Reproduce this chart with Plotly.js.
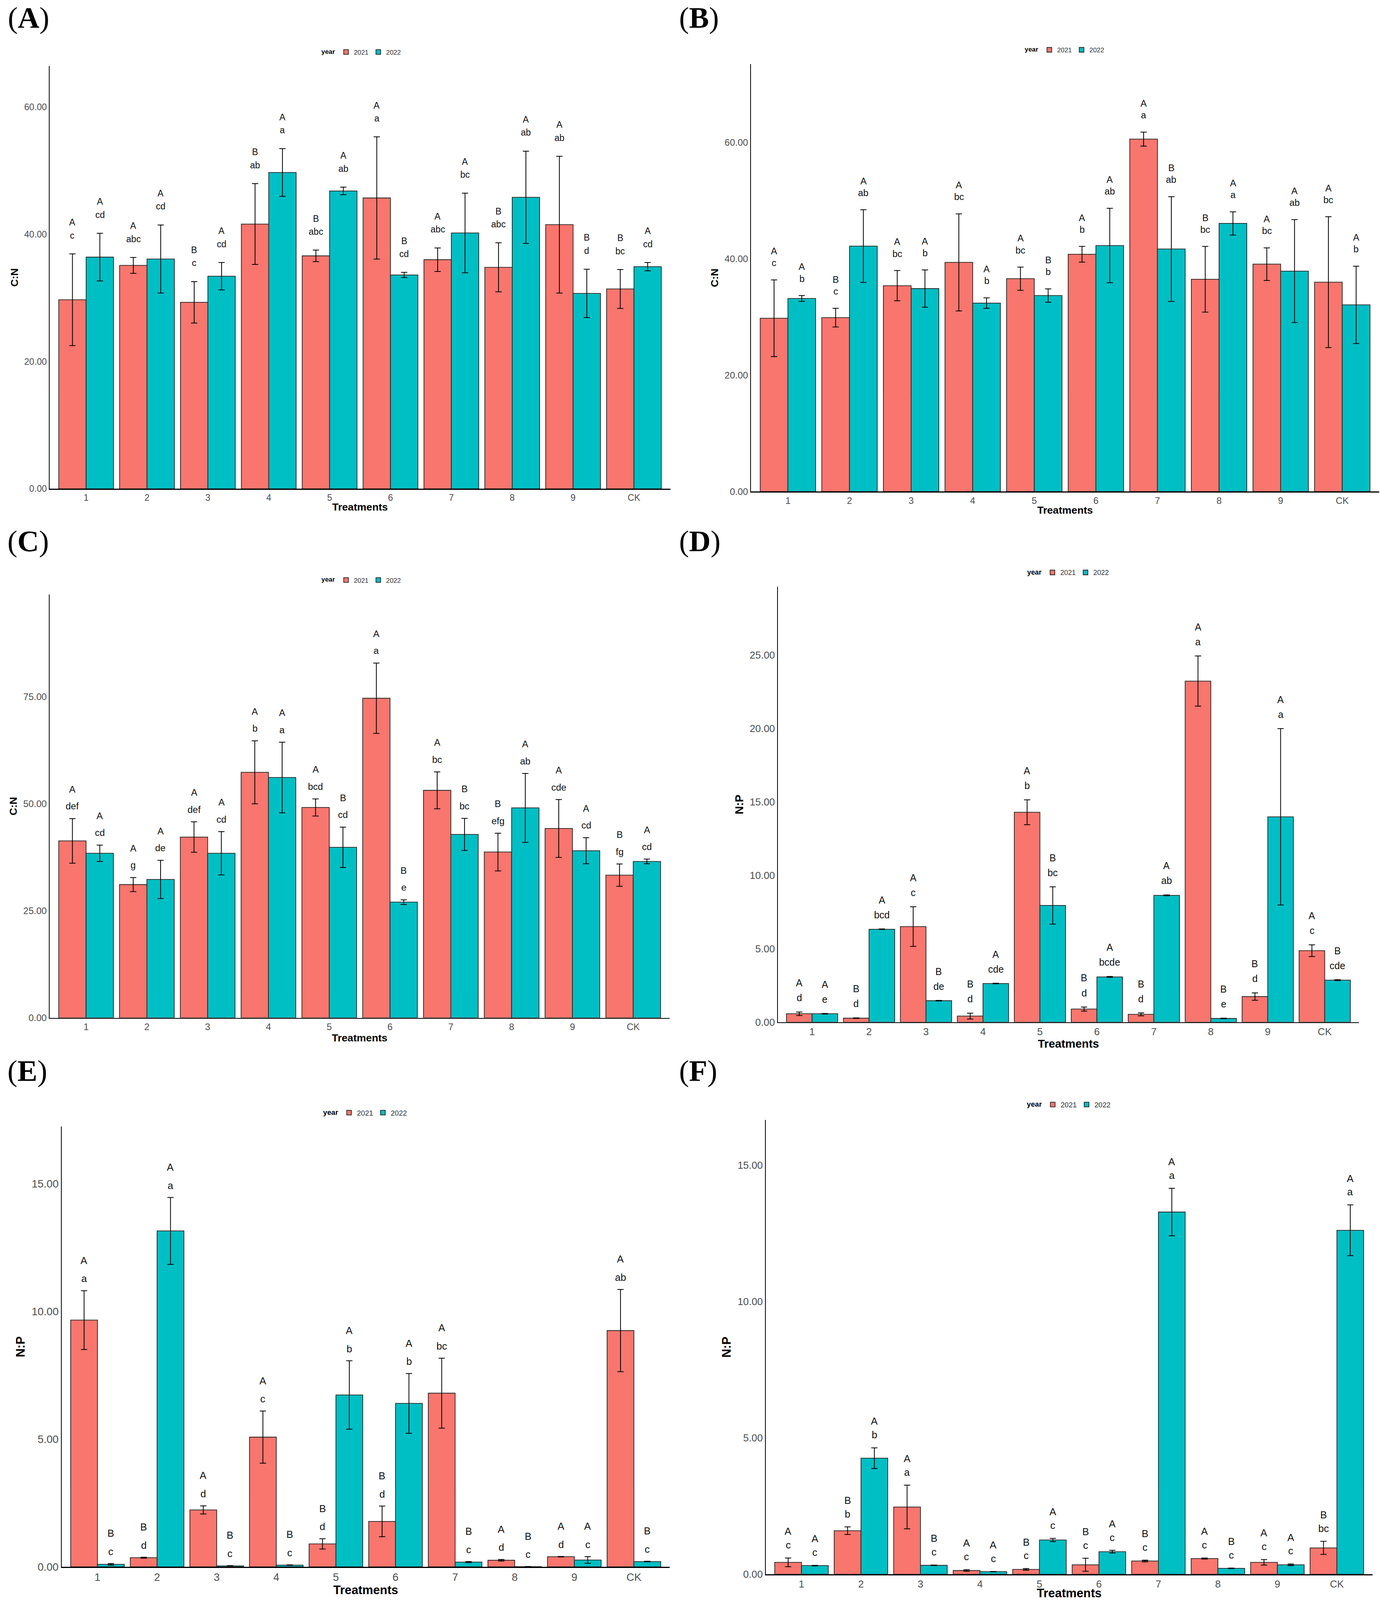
<!DOCTYPE html>
<html><head><meta charset="utf-8">
<script src="https://cdn.plot.ly/plotly-3.0.1.min.js"></script>
<style>html,body{margin:0;padding:0;background:#fff;overflow:hidden}</style>
</head><body>
<div id="chart"></div>
<script>
// ---------- DATA ----------
const treatments = ['1','2','3','4','5','6','7','8','9','CK'];
const years = ['2021','2022'];

// Panel A (C:N)
const A_2021 = [29.7, 35.1, 29.3, 41.6, 36.6, 45.7, 36.0, 34.8, 41.5, 31.4];
const A_2021_err = [7.2, 1.25, 3.25, 6.35, 0.9, 9.6, 1.85, 3.85, 10.75, 3.05];
const A_2022 = [36.4, 36.1, 33.4, 49.7, 46.8, 33.6, 40.2, 45.8, 30.7, 34.9];
const A_2022_err = [3.75, 5.35, 2.15, 3.75, 0.6, 0.4, 6.25, 7.25, 3.8, 0.65];
const A_2021_cap = ['A','A','B','B','B','A','A','B','A','B'];
const A_2021_low = ['c','abc','c','ab','abc','a','abc','abc','ab','bc'];
const A_2022_cap = ['A','A','A','A','A','B','A','A','B','A'];
const A_2022_low = ['cd','cd','cd','a','ab','cd','bc','ab','d','cd'];

// Panel B (C:N)
const B_2021 = [29.8, 29.9, 35.4, 39.4, 36.6, 40.8, 60.6, 36.5, 39.1, 36.0];
const B_2021_err = [6.6, 1.6, 2.6, 8.35, 2.0, 1.35, 1.2, 5.65, 2.8, 11.25];
const B_2022 = [33.2, 42.2, 34.9, 32.4, 33.7, 42.3, 41.7, 46.1, 37.9, 32.1];
const B_2022_err = [0.5, 6.25, 3.2, 0.9, 1.15, 6.4, 9.0, 2.0, 8.85, 6.65];
const B_2021_cap = ['A','B','A','A','A','A','A','B','A','A'];
const B_2021_low = ['c','c','bc','bc','bc','b','a','bc','bc','bc'];
const B_2022_cap = ['A','A','A','A','B','A','B','A','A','A'];
const B_2022_low = ['b','ab','b','b','b','ab','ab','a','ab','b'];

// Panel C (C:N)
const C_2021 = [41.3, 31.1, 42.2, 57.3, 49.1, 74.6, 53.1, 38.7, 44.2, 33.3];
const C_2021_err = [5.2, 1.65, 3.55, 7.35, 2.0, 8.2, 4.3, 4.4, 6.75, 2.6];
const C_2022 = [38.4, 32.3, 38.4, 56.1, 39.8, 27.0, 42.8, 49.0, 39.0, 36.5];
const C_2022_err = [1.9, 4.45, 5.05, 8.25, 4.7, 0.55, 3.75, 8.05, 3.05, 0.55];
const C_2021_cap = ['A','A','A','A','A','A','A','B','A','B'];
const C_2021_low = ['def','g','def','b','bcd','a','bc','efg','cde','fg'];
const C_2022_cap = ['A','A','A','A','B','B','B','A','A','A'];
const C_2022_low = ['cd','de','cd','a','cd','e','bc','ab','cd','cd'];

// Panel D (N:P)
const D_2021 = [0.57, 0.27, 6.51, 0.41, 14.3, 0.89, 0.53, 23.24, 1.74, 4.87];
const D_2021_err = [0.12, 0.02, 1.35, 0.2, 0.85, 0.14, 0.1, 1.71, 0.25, 0.4];
const D_2022 = [0.57, 6.33, 1.46, 2.63, 7.95, 3.08, 8.64, 0.25, 13.99, 2.86];
const D_2022_err = [0.02, 0.02, 0.02, 0.02, 1.27, 0.03, 0.03, 0.02, 6.01, 0.03];
const D_2021_cap = ['A','B','A','B','A','B','B','A','B','A'];
const D_2021_low = ['d','d','c','d','b','d','d','a','d','c'];
const D_2022_cap = ['A','A','B','A','B','A','A','B','A','B'];
const D_2022_low = ['e','bcd','de','cde','bc','bcde','ab','e','a','cde'];

// Panel E (N:P)
const E_2021 = [9.66, 0.36, 2.23, 5.08, 0.90, 1.78, 6.80, 0.26, 0.40, 9.25];
const E_2021_err = [1.15, 0.02, 0.16, 1.02, 0.2, 0.6, 1.37, 0.03, 0.01, 1.61];
const E_2022 = [0.10, 13.15, 0.04, 0.07, 6.73, 6.40, 0.19, 0.01, 0.27, 0.21];
const E_2022_err = [0.03, 1.31, 0.01, 0.01, 1.34, 1.17, 0.02, 0.005, 0.13, 0.01];
const E_2021_cap = ['A','B','A','A','B','B','A','A','A','A'];
const E_2021_low = ['a','d','d','c','d','d','bc','d','d','ab'];
const E_2022_cap = ['B','A','B','B','A','A','B','B','A','B'];
const E_2022_low = ['c','a','c','c','b','b','c','c','c','c'];

// Panel F (N:P)
const F_2021 = [0.44, 1.60, 2.47, 0.14, 0.18, 0.35, 0.49, 0.58, 0.44, 0.97];
const F_2021_err = [0.16, 0.14, 0.80, 0.03, 0.03, 0.24, 0.03, 0.02, 0.1, 0.24];
const F_2022 = [0.32, 4.26, 0.33, 0.10, 1.26, 0.83, 13.29, 0.22, 0.35, 12.62];
const F_2022_err = [0.01, 0.38, 0.01, 0.005, 0.06, 0.05, 0.87, 0.01, 0.03, 0.93];
const F_2021_cap = ['A','B','A','A','B','B','B','A','A','B'];
const F_2021_low = ['c','b','a','c','c','c','c','c','c','bc'];
const F_2022_cap = ['A','A','B','A','A','A','A','B','A','A'];
const F_2022_low = ['c','b','c','c','c','c','a','c','c','a'];

const yTitles = ['C:N','C:N','C:N','N:P','N:P','N:P'];
const yTicks = [[0,20,40,60],[0,20,40,60],[0,25,50,75],[0,5,10,15,20,25],[0,5,10,15],[0,5,10,15]];

const panelData = [
  {mean:[A_2021,A_2022], err:[A_2021_err,A_2022_err], cap:[A_2021_cap,A_2022_cap], low:[A_2021_low,A_2022_low]},
  {mean:[B_2021,B_2022], err:[B_2021_err,B_2022_err], cap:[B_2021_cap,B_2022_cap], low:[B_2021_low,B_2022_low]},
  {mean:[C_2021,C_2022], err:[C_2021_err,C_2022_err], cap:[C_2021_cap,C_2022_cap], low:[C_2021_low,C_2022_low]},
  {mean:[D_2021,D_2022], err:[D_2021_err,D_2022_err], cap:[D_2021_cap,D_2022_cap], low:[D_2021_low,D_2022_low]},
  {mean:[E_2021,E_2022], err:[E_2021_err,E_2022_err], cap:[E_2021_cap,E_2022_cap], low:[E_2021_low,E_2022_low]},
  {mean:[F_2021,F_2022], err:[F_2021_err,F_2022_err], cap:[F_2021_cap,F_2022_cap], low:[F_2021_low,F_2022_low]}
];
const panelLabels = ['A','B','C','D','E','F'];

// ---------- LAYOUT ----------
// geometry measured on the 3532 x 5172 reference; rescaled to the actual window
const REF_W = 3532, REF_H = 5172;
const W = window.innerWidth || REF_W;
const H = Math.min(window.innerHeight || REF_H, REF_H);
const SX = W / REF_W, SY = H / REF_H, FS = Math.sqrt(SX * SY);
const chartDiv = document.getElementById('chart');
chartDiv.style.width = W + 'px';
chartDiv.style.height = H + 'px';

const geom = [
  {x:[127,1716], y:[214,1580], ymax:66.4, tick:26, title:30, ann:26, low:60, cap:102, leg:[926,168], legfont:19, lab:[18,57]},
  {x:[1922,3530], y:[207,1589], ymax:73.5, tick:27, title:30, ann:27, low:55, cap:93, leg:[2726,161], legfont:19, lab:[1736,57]},
  {x:[127,1714], y:[1922,3290], ymax:98.8, tick:27, title:30, ann:27, low:40, cap:95, leg:[926,1875], legfont:19, lab:[17,1750]},
  {x:[1991,3478], y:[1897,3304], ymax:29.66, tick:29, title:33, ann:28, low:46, cap:94, leg:[2735,1851], legfont:20, lab:[1736,1750]},
  {x:[158,1714], y:[3642,5065], ymax:17.23, tick:31, title:35, ann:29, low:39, cap:98, leg:[936,3597], legfont:21, lab:[17,3462]},
  {x:[1960,3513], y:[3620,5089], ymax:16.67, tick:29, title:35, ann:29, low:42, cap:86, leg:[2737,3571], legfont:21, lab:[1736,3462]}
];
const colors = ['#F8766D','#00BFC4'];
const FONT = 'Liberation Sans, Arial, Helvetica, sans-serif';

const traces = [];
const layout = {
  width: W, height: H, autosize: false,
  margin: {l:0, r:0, t:0, b:0},
  paper_bgcolor: '#fff', plot_bgcolor: '#fff',
  barmode: 'group', bargap: 0.1, bargroupgap: 0,
  font: {family: FONT, color: '#000'},
  annotations: [], showlegend: true
};

geom.forEach((g, k) => {
  const sfx = k === 0 ? '' : String(k + 1);
  const legName = 'legend' + sfx;
  const d = panelData[k];
  years.forEach((yr, j) => {
    traces.push({
      type: 'bar', name: yr, x: treatments, y: d.mean[j],
      xaxis: 'x' + sfx, yaxis: 'y' + sfx, legend: legName,
      marker: {color: colors[j], line: {color: '#222', width: 1.8}},
      error_y: {type: 'data', array: d.err[j], visible: true, color: '#000', thickness: 2, width: 8 * SX},
      hoverinfo: 'x+y'
    });
    d.mean[j].forEach((v, i) => {
      const top = v + d.err[j][i];
      const xi = i + (j === 0 ? -0.225 : 0.225);
      layout.annotations.push({
        xref: 'x' + sfx, yref: 'y' + sfx, x: xi, y: top, yshift: g.low * SY,
        text: d.low[j][i], showarrow: false, xanchor: 'center', yanchor: 'middle',
        font: {family: FONT, size: g.ann * FS, color: '#111'}
      });
      layout.annotations.push({
        xref: 'x' + sfx, yref: 'y' + sfx, x: xi, y: top, yshift: g.cap * SY,
        text: d.cap[j][i], showarrow: false, xanchor: 'center', yanchor: 'middle',
        font: {family: FONT, size: g.ann * FS, color: '#111'}
      });
    });
  });
  layout['xaxis' + sfx] = {
    domain: [g.x[0] / REF_W, g.x[1] / REF_W], anchor: 'y' + sfx,
    type: 'category', categoryorder: 'array', categoryarray: treatments,
    range: [-0.6, 9.6], showline: true, linecolor: '#000', linewidth: 2.5,
    ticks: '', showgrid: false, zeroline: false, fixedrange: true,
    tickfont: {family: FONT, size: g.tick * FS, color: '#4D4D4D'},
    title: {text: '<b>Treatments</b>', font: {family: FONT, size: g.title * FS, color: '#000'}, standoff: 3}
  };
  layout['yaxis' + sfx] = {
    domain: [1 - g.y[1] / REF_H, 1 - g.y[0] / REF_H], anchor: 'x' + sfx,
    range: [0, g.ymax], tickvals: yTicks[k], tickformat: '.2f',
    showline: true, linecolor: '#000', linewidth: 2.5,
    ticks: '', showgrid: false, zeroline: false, fixedrange: true,
    tickfont: {family: FONT, size: g.tick * FS, color: '#4D4D4D'},
    title: {text: '<b>' + yTitles[k] + '</b>', font: {family: FONT, size: g.title * FS, color: '#000'}, standoff: 8}
  };
  layout[legName] = {
    x: g.leg[0] / REF_W, y: 1 - g.leg[1] / REF_H, xref: 'paper', yref: 'paper',
    xanchor: 'center', yanchor: 'middle', orientation: 'h',
    title: {text: '<b>year</b>', side: 'left', font: {family: FONT, size: g.legfont * FS, color: '#000'}},
    font: {family: FONT, size: g.legfont * FS, color: '#333'},
    itemwidth: 30, bgcolor: 'rgba(0,0,0,0)', borderwidth: 0
  };
  layout.annotations.push({
    xref: 'paper', yref: 'paper', x: g.lab[0] / REF_W, y: 1 - g.lab[1] / REF_H,
    xanchor: 'left', yanchor: 'middle', showarrow: false,
    text: '(<b>' + panelLabels[k] + '</b>)',
    font: {family: 'Liberation Serif, Times New Roman, serif', size: 86 * FS, color: '#000'}
  });
});

Plotly.newPlot('chart', traces, layout, {staticPlot: true, displayModeBar: false});
</script>
</body></html>
